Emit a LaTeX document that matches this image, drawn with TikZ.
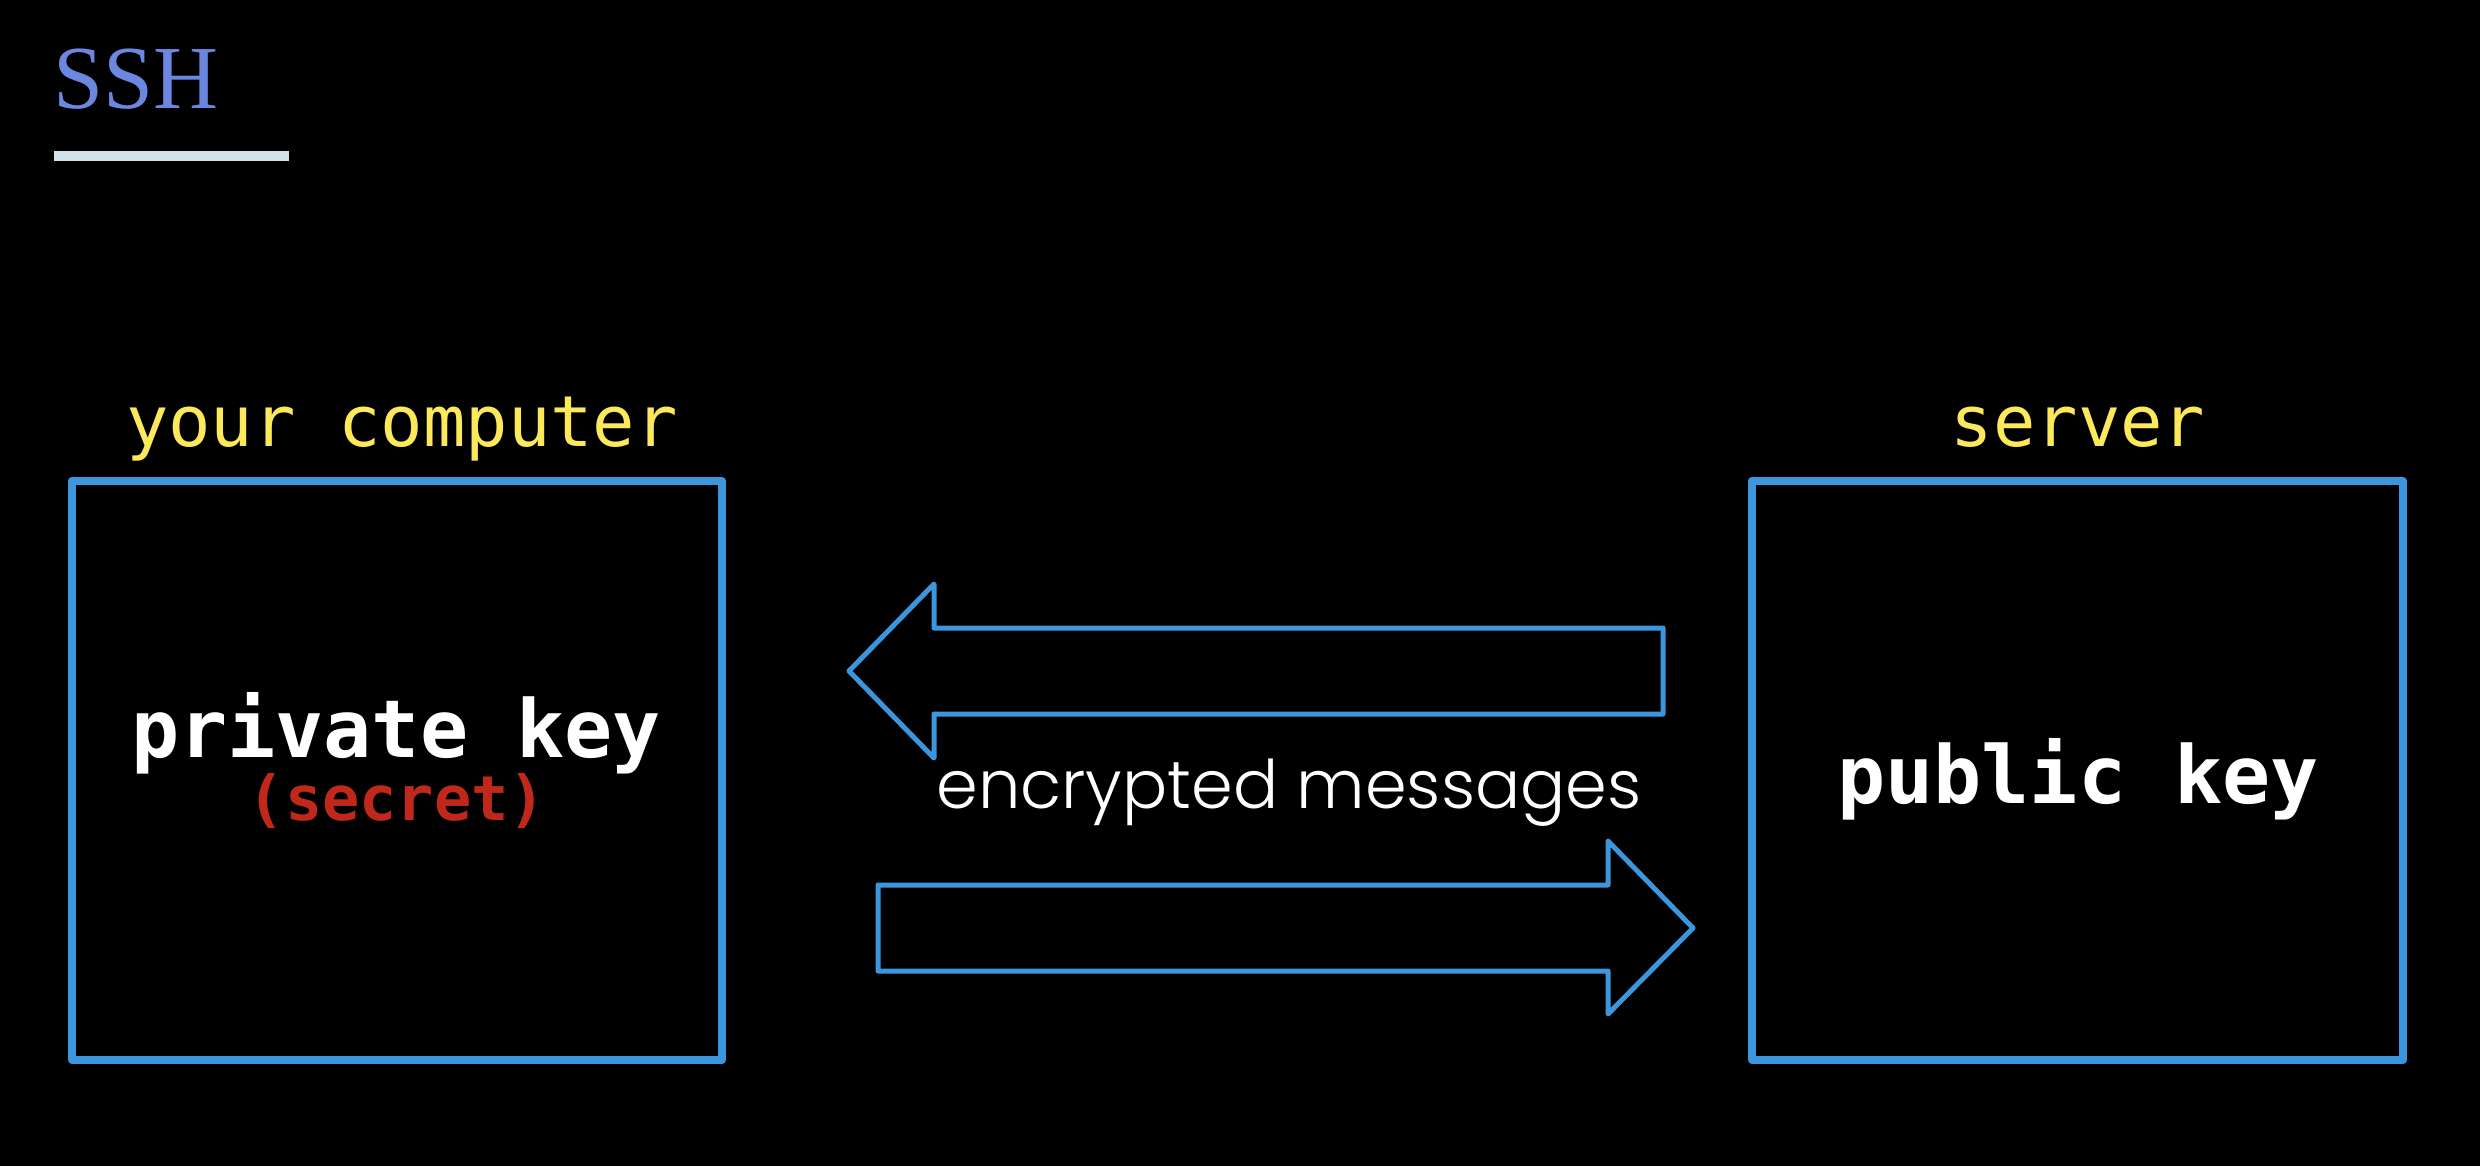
\documentclass[tikz,border=0pt]{standalone}
\usepackage{fontspec}
\setmainfont{Liberation Serif}
\newfontfamily\sshfont{Liberation Serif}
\newfontfamily\monofont{DejaVu Sans Mono}
\IfFontExistsTF{Poppins Light}{\newfontfamily\geofont{Poppins Light}}{\newfontfamily\geofont{Poppins}}
\definecolor{sshblue}{HTML}{6C87E0}
\definecolor{barcol}{HTML}{D0E4EA}
\definecolor{boxblue}{HTML}{3C96DE}
\definecolor{labyellow}{HTML}{FBE95B}
\definecolor{secred}{HTML}{C0281C}
\begin{document}
\begin{tikzpicture}[x=1bp,y=-1bp,
  keybox/.style={draw=boxblue, line width=8bp, line join=round, inner sep=0pt, fill=black},
  lab/.style={anchor=base, inner sep=0pt, text=labyellow, font=\monofont\fontsize{70.5bp}{80bp}\selectfont},
  keytxt/.style={anchor=base, inner sep=0pt, text=white, font=\monofont\bfseries\fontsize{80bp}{90bp}\selectfont},
  sectxt/.style={anchor=base, inner sep=0pt, text=secred, font=\monofont\bfseries\fontsize{62bp}{70bp}\selectfont},
  msgtxt/.style={anchor=base, inner sep=0pt, text=white, font=\geofont\fontsize{67bp}{80bp}\selectfont},
  blockarrow/.style={draw=boxblue, line width=5bp, line join=round}]
\useasboundingbox[fill=black] (0,0) rectangle (2480,1166);
% title
\node[anchor=base west, inner sep=0pt, text=sshblue, font=\sshfont\fontsize{90bp}{100bp}\selectfont] (title) at (53,108) {SSH};
\fill[barcol] (54,151) rectangle (289,161);
% boxes
\node[keybox, minimum width=650bp, minimum height=579bp] (pc) at (397,770.5) {};
\node[keybox, minimum width=651bp, minimum height=579bp] (srv) at (2077.5,770.5) {};
% labels
\node[lab] (pclab) at (402,446) {your computer};
\node[lab] (srvlab) at (2078,446) {server};
\node[keytxt] (priv) at (396,757) {private key};
\node[sectxt] (sec) at (397,820) {(secret)};
\node[keytxt] (pub) at (2078,803) {public key};
\node[msgtxt] (msg) at (1289,808) {encrypted messages};
% arrows
\draw[blockarrow] (849,671) -- (934,584) -- (934,628) -- (1663,628) -- (1663,714) -- (934,714) -- (934,758) -- cycle;
\draw[blockarrow] (1693,928) -- (1608,841) -- (1608,885) -- (878,885) -- (878,971) -- (1608,971) -- (1608,1014) -- cycle;
\end{tikzpicture}
\end{document}
